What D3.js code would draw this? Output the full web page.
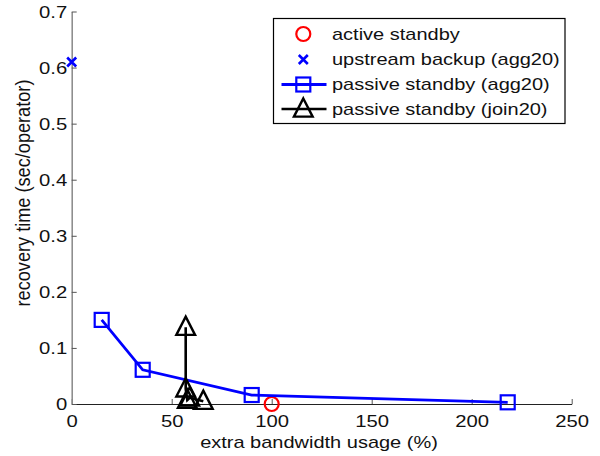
<!DOCTYPE html>
<html><head><meta charset="utf-8">
<script src="https://cdn.jsdelivr.net/npm/d3@7"></script>
<style>
body{margin:0;background:#fff;}
svg{display:block;font-family:"Liberation Sans",Arial,sans-serif;}
</style></head>
<body><svg id="c" width="600" height="456"></svg>
<script>
const xTicks = [0, 50, 100, 150, 200, 250];
const yTicks = [0, 0.1, 0.2, 0.3, 0.4, 0.5, 0.6, 0.7];
const seriesNames = ["active standby", "upstream backup (agg20)", "passive standby (agg20)", "passive standby (join20)"];
const activeX = [100];
const activeY = [0];
const upstreamX = [0];
const upstreamY = [0.61];
const aggX = [15, 35.5, 90, 218];
const aggY = [0.15, 0.061, 0.016, 0.003];
const joinX = [57, 57, 57.8, 59, 65.8];
const joinY = [0.137, 0.027, 0.007, 0.011, 0.005];

const SY = 0.85; // vertical squash of glyphs seen in the reference

const svg = d3.select("#c");
const x = d3.scaleLinear().domain([0, 250]).range([71.7, 571.7]);
const y = d3.scaleLinear().domain([0, 0.7]).range([404, 11.5]);

function squash(sel) {
  sel.each(function () {
    const t = d3.select(this);
    const tx = parseFloat(t.attr("x") || 0), ty = parseFloat(t.attr("y") || 0);
    t.attr("x", 0).attr("y", 0).attr("transform", `translate(${tx},${ty}) scale(1,${SY})`);
  });
}
function fitW(sel, target) {
  const w = sel.node().getComputedTextLength();
  const fs = parseFloat(sel.attr("font-size"));
  return fs * target / w;
}

// axes
const xa = svg.append("g").attr("transform", "translate(0,404)")
  .call(d3.axisBottom(x).tickValues(xTicks).tickFormat(d3.format("d")).tickSizeInner(-5).tickSizeOuter(0).tickPadding(10.5));
xa.select(".domain").attr("stroke", "#222").attr("stroke-width", 1.2);
xa.selectAll(".tick line").attr("stroke", "#555");
xa.selectAll("text").attr("font-size", 20.3).attr("fill", "#111");
squash(xa.selectAll("text"));

const ya = svg.append("g").attr("transform", "translate(71.7,0)")
  .call(d3.axisLeft(y).tickValues(yTicks).tickFormat(d => d === 0 ? "0" : d3.format(".1f")(d)).tickSizeInner(-5).tickSizeOuter(0).tickPadding(4.5));
ya.select(".domain").attr("stroke", "#888").attr("stroke-width", 1.5);
ya.selectAll(".tick line").attr("stroke", "#555");
ya.selectAll("text").attr("font-size", 20.3).attr("fill", "#111");
squash(ya.selectAll("text"));

// axis labels
const xl = svg.append("text").attr("x", 319).attr("y", 448).attr("text-anchor", "middle")
  .attr("font-size", 20).attr("fill", "#111").text("extra bandwidth usage (%)");
xl.attr("font-size", fitW(xl, 238).toFixed(2));
squash(xl);

const yl = svg.append("text").attr("text-anchor", "middle")
  .attr("font-size", 19.5).attr("fill", "#111").text("recovery time (sec/operator)");
const ylw = yl.node().getComputedTextLength();
yl.attr("transform", `translate(29.5,193) rotate(-90) scale(${(227 / ylw).toFixed(4)},1)`);

const line = d3.line().x(d => x(d[0])).y(d => y(d[1]));
const triPath = (cx, cy, s) => `M${cx},${cy - s * 0.62}L${cx + s * 0.55},${cy + s * 0.45}L${cx - s * 0.55},${cy + s * 0.45}Z`;

function circle(g, cx, cy) {
  g.append("circle").attr("cx", cx).attr("cy", cy).attr("r", 7).attr("fill", "none").attr("stroke", "#f00").attr("stroke-width", 2.2);
}
function cross(g, cx, cy) {
  const s = 4.5;
  g.append("path").attr("d", `M${cx - s},${cy - s}L${cx + s},${cy + s}M${cx - s},${cy + s}L${cx + s},${cy - s}`)
    .attr("stroke", "#00f").attr("stroke-width", 2.6).attr("fill", "none");
}
function square(g, cx, cy) {
  g.append("rect").attr("x", cx - 7).attr("y", cy - 7).attr("width", 14).attr("height", 14)
    .attr("fill", "none").attr("stroke", "#00f").attr("stroke-width", 2.2);
}
function tri(g, cx, cy) {
  g.append("path").attr("d", triPath(cx, cy, 17)).attr("fill", "none").attr("stroke", "#000").attr("stroke-width", 2.4).attr("stroke-linejoin", "miter");
}

const plot = svg.append("g");
activeX.forEach((v, i) => circle(plot, x(v), y(activeY[i])));
upstreamX.forEach((v, i) => cross(plot, x(v), y(upstreamY[i])));
const aggData = aggX.map((v, i) => [v, aggY[i]]);
plot.append("path").datum(aggData).attr("d", line).attr("fill", "none").attr("stroke", "#00f").attr("stroke-width", 2.8);
aggData.forEach(d => square(plot, x(d[0]), y(d[1])));
const joinData = joinX.map((v, i) => [v, joinY[i]]);
plot.append("path").datum(joinData).attr("d", line).attr("fill", "none").attr("stroke", "#000").attr("stroke-width", 2.6);
joinData.forEach(d => tri(plot, x(d[0]), y(d[1])));

// legend
const lg = svg.append("g");
lg.append("rect").attr("x", 273.5).attr("y", 18.5).attr("width", 291.5).attr("height", 105)
  .attr("fill", "#fff").attr("stroke", "#000").attr("stroke-width", 1.2);
const rowY = [34, 59.5, 84.5, 109];
const mx = 303.3;
circle(lg, mx, rowY[0]);
cross(lg, mx, rowY[1]);
lg.append("line").attr("x1", 281.5).attr("x2", 326.5).attr("y1", rowY[2]).attr("y2", rowY[2]).attr("stroke", "#00f").attr("stroke-width", 2.8);
square(lg, mx, rowY[2]);
lg.append("line").attr("x1", 281.5).attr("x2", 326.5).attr("y1", rowY[3]).attr("y2", rowY[3]).attr("stroke", "#000").attr("stroke-width", 2.6);
tri(lg, mx, rowY[3]);
const texts = seriesNames.map((n, i) => lg.append("text").attr("x", 332).attr("y", rowY[i]).attr("dy", "0.35em")
    .attr("font-size", 20).attr("fill", "#111").text(n));
const lfs = fitW(texts[1], 228).toFixed(2);
texts.forEach(t => { t.attr("font-size", lfs); squash(t); });
</script></body></html>
